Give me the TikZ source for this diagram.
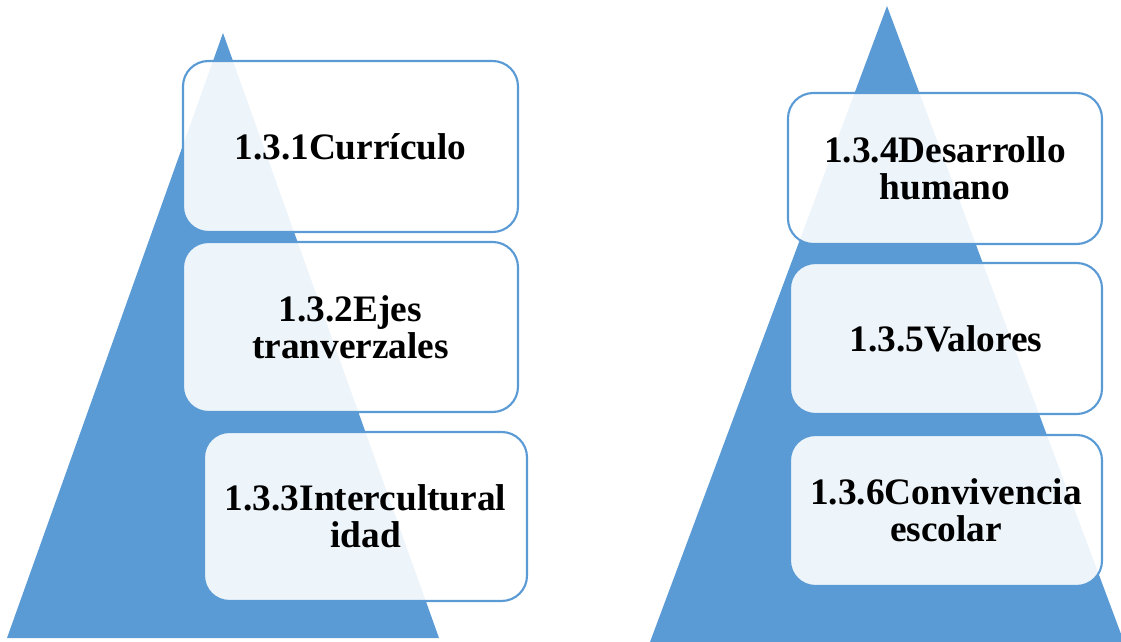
\documentclass[tikz,border=0pt]{standalone}
\usepackage{fontspec}
\setmainfont{Liberation Serif}
\definecolor{tri}{HTML}{5B9BD5}
\begin{document}
\begin{tikzpicture}[x=0.75pt,y=-0.75pt,
  trifill/.style={fill=tri,draw=none},
  box/.style={draw=tri,line width=1.6pt,fill=white,fill opacity=0.9,text opacity=1,
    rounded corners=19pt,align=center,inner sep=0pt,
    font=\bfseries\fontsize{28}{28}\selectfont},
]
\useasboundingbox (0,0) rectangle (1121,642);
\clip (0,0) rectangle (1121,642);
% triangles
\path[trifill] (223,33) -- (439,638) -- (7,638) -- cycle;
\path[trifill] (887,6) -- (1124,642) -- (650,642) -- cycle;
% left boxes
\node[box,minimum width=251.25pt,minimum height=128.25pt] (b1) at (350.5,146.5) {1.3.1Currículo};
\node[box,minimum width=251.25pt,minimum height=127.5pt] (b2) at (350.5,327) {1.3.2Ejes\\tranverzales};
\node[box,minimum width=242.25pt,minimum height=126.75pt] (b3) at (365.5,516.5) {1.3.3Intercultural\\idad};
% right boxes
\node[box,minimum width=235.5pt,minimum height=113.25pt] (b4) at (945,168.5) {1.3.4Desarrollo\\humano};
\node[box,minimum width=234pt,minimum height=113.25pt] (b5) at (946,338.5) {1.3.5Valores};
\node[box,minimum width=234pt,minimum height=113.25pt] (b6) at (946,510.5) {1.3.6Convivencia\\escolar};
\end{tikzpicture}
\end{document}
